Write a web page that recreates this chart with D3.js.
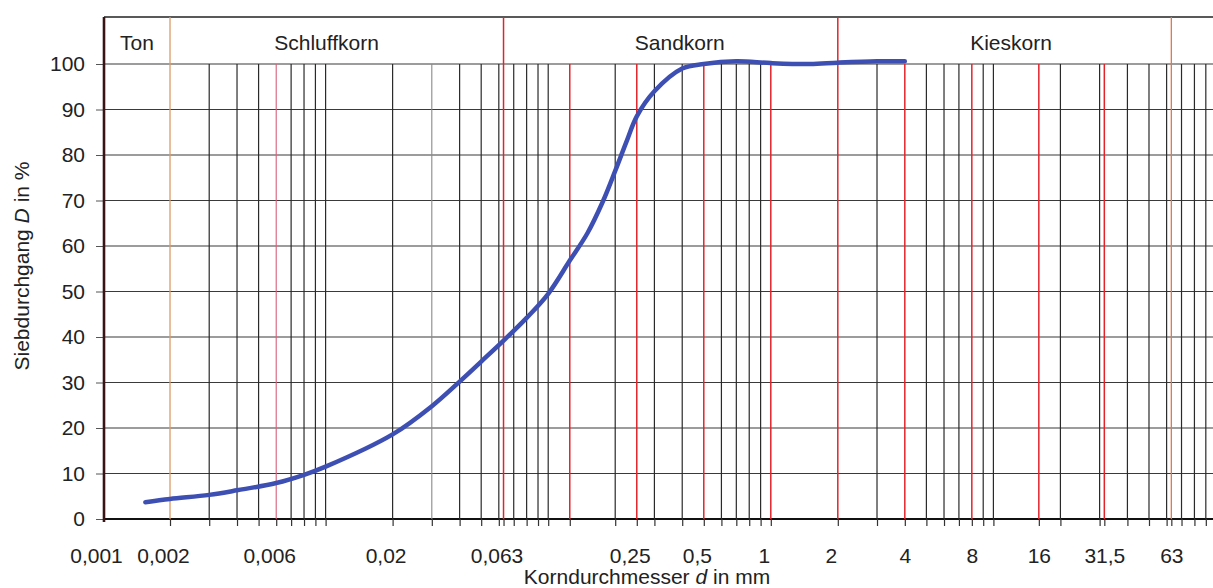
<!DOCTYPE html>
<html>
<head>
<meta charset="utf-8">
<script src="https://cdn.jsdelivr.net/npm/d3@7"></script>
<style>
  html, body { margin: 0; padding: 0; background: #fff; }
  svg { display: block; font-family: "Liberation Sans", Arial, sans-serif; }
</style>
</head>
<body>
<svg id="chart" width="1213" height="588"></svg>
<script>
// ---- data ----
const sieveDiameters = [0.00155, 0.002, 0.003, 0.004, 0.006, 0.008, 0.01, 0.02, 0.03, 0.04, 0.05, 0.063, 0.08, 0.1, 0.125, 0.15, 0.175, 0.2, 0.225, 0.25, 0.3, 0.4, 0.5, 0.7, 1, 1.5, 2, 3, 4];
const sievePassing  = [3.7, 4.4, 5.3, 6.3, 7.9, 9.7, 11.5, 18.6, 24.8, 30.2, 34.6, 39.2, 44.2, 49.5, 56.8, 62.8, 69.5, 76.5, 83, 88.5, 94, 99, 100, 100.6, 100.2, 100, 100.3, 100.6, 100.6];

const xTickValues = [0.001, 0.002, 0.006, 0.02, 0.063, 0.25, 0.5, 1, 2, 4, 8, 16, 31.5, 63];
const xTickLabels = ["0,001", "0,002", "0,006", "0,02", "0,063", "0,25", "0,5", "1", "2", "4", "8", "16", "31,5", "63"];
const yTickValues = [0, 10, 20, 30, 40, 50, 60, 70, 80, 90, 100];

const blackGridValues = [0.003, 0.004, 0.005, 0.007, 0.008, 0.009, 0.01, 0.02, 0.04, 0.05, 0.06, 0.07, 0.08, 0.09, 0.1, 0.2, 0.3, 0.4, 0.6, 0.7, 0.8, 0.9, 3, 5, 6, 7, 9, 10, 20, 30, 40, 50, 60, 70, 80, 90];
const grayGridValues = [0.03];
const redGridValues = [0.125, 0.25, 0.5, 1, 4, 8, 16, 31.5];
const pinkGridValues = [0.006];

const zoneNames = ["Ton", "Schluffkorn", "Sandkorn", "Kieskorn"];
const zoneCenters = [0.00142, 0.0101, 0.39, 12];
const zoneBoundaries = [0.002, 0.063, 2, 63];
const zoneBoundaryKinds = ["orange", "red", "red", "orange2"];

// ---- layout ----
const W = 1213, H = 588;
const x = d3.scaleLog().domain([0.001, 100]).range([103, 103 + 5 * 222.6]);
const y = d3.scaleLinear().domain([0, 100]).range([519, 64]);
const headerTop = 17;
const frameLeft = 104;
const FS = 21;

const svg = d3.select("#chart");
svg.append("rect").attr("width", W).attr("height", H).attr("fill", "#fff");

const colors = { black: "#2a2a2a", gray: "#8a8a8a", red: "#e0242a", pink: "#d8607a", orange: "#dc9a68", orange2: "#e07a48" };

// horizontal grid
svg.append("g").selectAll("line").data(yTickValues).join("line")
  .attr("x1", frameLeft).attr("x2", W)
  .attr("y1", d => y(d)).attr("y2", d => y(d))
  .attr("stroke", d => d === 0 ? "#111" : "#3a3a3a")
  .attr("stroke-width", d => d === 0 ? 2 : 1.1);

// header top line
svg.append("line").attr("x1", frameLeft).attr("x2", W).attr("y1", headerTop).attr("y2", headerTop)
  .attr("stroke", "#222").attr("stroke-width", 1.6);

// vertical grid lines
function vlines(values, color, width, top) {
  svg.append("g").selectAll("line").data(values).join("line")
    .attr("x1", d => x(d)).attr("x2", d => x(d))
    .attr("y1", top).attr("y2", y(0))
    .attr("stroke", color).attr("stroke-width", width);
}
vlines(blackGridValues, colors.black, 1.2, y(100));
vlines(grayGridValues, colors.gray, 1.1, y(100));
vlines(pinkGridValues, colors.pink, 1.1, y(100));
vlines(redGridValues, colors.red, 1.5, y(100));
svg.append("g").selectAll("line").data(zoneBoundaries).join("line")
  .attr("x1", d => x(d)).attr("x2", d => x(d))
  .attr("y1", headerTop).attr("y2", y(0))
  .attr("stroke", (d, i) => colors[zoneBoundaryKinds[i]])
  .attr("stroke-width", (d, i) => zoneBoundaryKinds[i] === "red" ? 1.5 : 1.3);

// zone labels
svg.append("g").selectAll("text").data(zoneNames).join("text")
  .attr("x", (d, i) => x(zoneCenters[i]))
  .attr("y", 50)
  .attr("text-anchor", "middle")
  .attr("font-size", FS)
  .attr("fill", "#222")
  .text(d => d);

// x axis tick marks at all grid lines
const allGrid = [].concat(blackGridValues, grayGridValues, redGridValues, pinkGridValues, zoneBoundaries);
const xTicksAxis = d3.axisBottom(x).tickValues(allGrid).tickSize(7).tickFormat("");
const gxt = svg.append("g").attr("transform", `translate(0,${y(0)})`).call(xTicksAxis);
gxt.select(".domain").remove();
gxt.selectAll(".tick line").attr("stroke", "#333").attr("stroke-width", 1.2);

// x axis labels
const xLabelAxis = d3.axisBottom(x).tickValues(xTickValues).tickSize(0).tickPadding(29)
  .tickFormat((d, i) => xTickLabels[i]);
const gxl = svg.append("g").attr("transform", `translate(0,${y(0)})`).call(xLabelAxis);
gxl.select(".domain").remove();
gxl.selectAll("text")
  .attr("font-size", FS).attr("fill", "#222")
  .attr("font-family", "Liberation Sans, Arial, sans-serif")
  .attr("dx", d => d < 4 ? -7 : 0);

// y axis
const yAxis = d3.axisLeft(y).tickValues(yTickValues).tickSize(8).tickPadding(11);
const gy = svg.append("g").attr("transform", `translate(${frameLeft},0)`).call(yAxis);
gy.select(".domain").remove();
gy.selectAll(".tick line").attr("stroke", "#555").attr("stroke-width", 1);
gy.selectAll("text").attr("font-size", FS).attr("fill", "#222")
  .attr("font-family", "Liberation Sans, Arial, sans-serif");

// left frame
svg.append("line").attr("x1", frameLeft).attr("x2", frameLeft)
  .attr("y1", headerTop).attr("y2", y(0) + 3)
  .attr("stroke", "#3a1414").attr("stroke-width", 2.6);

// curve
const pts = sieveDiameters.map((d, i) => [d, sievePassing[i]]);
const line = d3.line().x(d => x(d[0])).y(d => y(d[1])).curve(d3.curveCatmullRom.alpha(0.5));
svg.append("path").attr("d", line(pts))
  .attr("fill", "none").attr("stroke", "#3d4fb3").attr("stroke-width", 4.5)
  .attr("stroke-linecap", "round").attr("stroke-linejoin", "round");

// axis titles
const xt = svg.append("text").attr("x", 647).attr("y", 584).attr("text-anchor", "middle")
  .attr("font-size", FS).attr("fill", "#222");
xt.append("tspan").text("Korndurchmesser ");
xt.append("tspan").attr("font-style", "italic").text("d");
xt.append("tspan").text(" in mm");

const yt = svg.append("text").attr("transform", "translate(29,266) rotate(-90)")
  .attr("text-anchor", "middle").attr("font-size", FS).attr("fill", "#222");
yt.append("tspan").text("Siebdurchgang ");
yt.append("tspan").attr("font-style", "italic").text("D");
yt.append("tspan").text(" in %");
</script>
</body>
</html>
